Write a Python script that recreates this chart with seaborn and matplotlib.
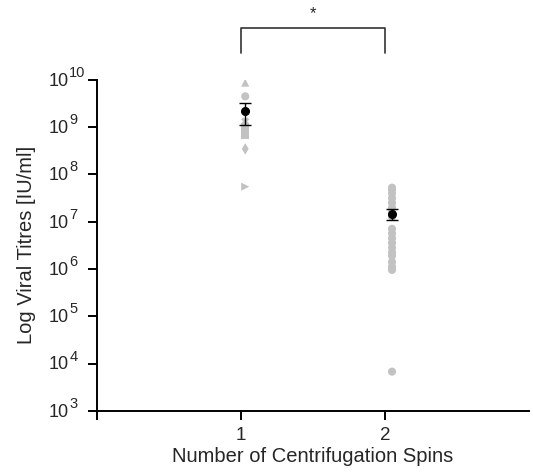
import numpy as np
import pandas as pd
import matplotlib
matplotlib.use("Agg")
import matplotlib.pyplot as plt
import matplotlib.transforms as mtransforms
import seaborn as sns

# log10 titres
spins = [1, 2]
one_spin_log = [9.94, 9.65, 9.12, 9.0, 8.92, 8.84, 8.54, 7.74]
one_spin_markers = ["^", "o", "X", "s", "s", "s", "d", ">"]
two_spin_log = [7.72, 7.68, 7.6, 7.5, 7.4, 7.3, 7.2, 7.1, 6.85, 6.75,
                6.65, 6.55, 6.45, 6.35, 6.28, 6.15, 6.05, 5.98, 3.83]
exponents = list(range(3, 11))
signif_label = "*"

sns.set_style("ticks")
plt.rcParams["font.family"] = ["Liberation Sans", "DejaVu Sans"]

one = 10 ** np.array(one_spin_log)
two = 10 ** np.array(two_spin_log)
df = pd.concat([
    pd.DataFrame({"pos": 1.03, "titre": one, "mk": one_spin_markers}),
    pd.DataFrame({"pos": 2.05, "titre": two, "mk": "o"}),
])

fig = plt.figure(figsize=(5.33, 4.75), dpi=100)
ax = fig.add_axes([0.182, 0.135, 0.81, 0.697])
ax.set_yscale("log")

marker_map = {m: m for m in df["mk"].unique()}
sns.scatterplot(data=df, x="pos", y="titre", style="mk", markers=marker_map,
                color="#c2c2c2", edgecolor="none", s=34, legend=False, ax=ax,
                zorder=2)

# mean +/- SEM
for pos, vals in [(1.03, one), (2.05, two)]:
    m = vals.mean()
    se = vals.std(ddof=1) / np.sqrt(len(vals))
    ax.errorbar(pos, m, yerr=[[se], [se]], fmt="o", color="black", ms=5.5,
                capsize=4, elinewidth=1.0, capthick=1.0, zorder=3)

ax.set_xlim(0, 3)
ax.set_ylim(1e3, 1e10)
ax.set_xticks([0] + spins)
ax.set_xticklabels([""] + [str(s) for s in spins])
ax.set_yticks([10.0 ** k for k in exponents])
ax.set_yticklabels([])
ax.yaxis.set_minor_locator(matplotlib.ticker.NullLocator())
ax.tick_params(axis="both", labelsize=13.5, length=6.5, width=1.4,
               direction="out", color="black")
ax.tick_params(axis="x", pad=5)
for side in ["top", "right"]:
    ax.spines[side].set_visible(False)
for side in ["left", "bottom"]:
    ax.spines[side].set_linewidth(1.4)
    ax.spines[side].set_color("black")

# y tick labels as 10 with a large superscript
ytr = mtransforms.blended_transform_factory(ax.transAxes, ax.transData)
for k in exponents:
    ax.annotate("10", xy=(0, 10.0 ** k), xycoords=ytr, xytext=(-20, -1),
                textcoords="offset points", ha="right", va="center",
                fontsize=13, annotation_clip=False)
    ax.annotate(str(k), xy=(0, 10.0 ** k), xycoords=ytr, xytext=(-20, 5),
                textcoords="offset points", ha="left", va="center",
                fontsize=10.5, annotation_clip=False)

ax.set_xlabel("Number of Centrifugation Spins", fontsize=14.5, labelpad=2)
ax.set_ylabel("Log Viral Titres [IU/ml]", fontsize=14.5, labelpad=34)

# significance bracket
tr = mtransforms.blended_transform_factory(ax.transData, ax.transAxes)
ax.plot([1, 1, 2, 2], [1.082, 1.157, 1.157, 1.082], color="#333333",
        lw=1.2, transform=tr, clip_on=False)
ax.text(1.5, 1.2, signif_label, transform=tr, ha="center", va="center",
        fontsize=12)

fig.savefig("out.png", dpi=100)
